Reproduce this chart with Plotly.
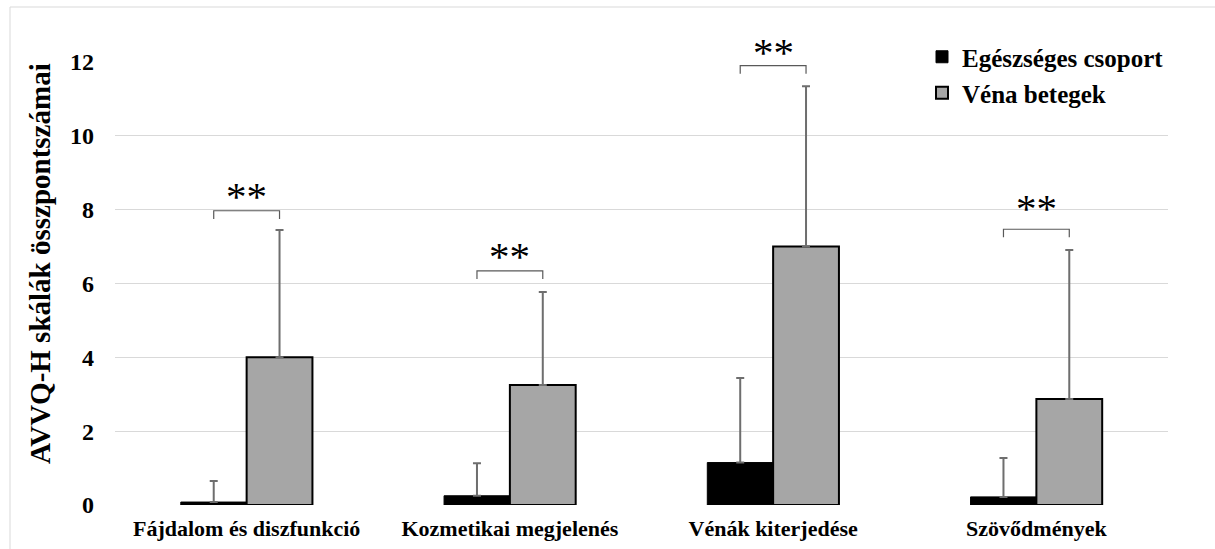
import plotly.graph_objects as go

categories = ["Fájdalom és diszfunkció", "Kozmetikai megjelenés", "Vénák kiterjedése", "Szövődmények"]
healthy = [0.08, 0.25, 1.15, 0.22]
healthy_sd = [0.57, 0.88, 2.29, 1.05]
vena = [4.0, 3.25, 7.0, 2.87]
vena_sd = [3.45, 2.52, 4.34, 4.04]
bracket_y = [7.97, 6.34, 11.9, 7.47]
star_y = [8.52, 6.9, 12.42, 8.2]
yticks = [0, 2, 4, 6, 8, 10, 12]

FONT = "Liberation Serif"
xs = list(range(len(categories)))
W = 0.25
YMAX = 12

fig = go.Figure()
fig.add_trace(go.Bar(
    x=xs, y=healthy, width=W, offset=-W, name="Egészséges csoport",
    marker=dict(color="black", line=dict(color="black", width=1)),
    error_y=dict(type="data", array=healthy_sd, arrayminus=[0]*4, symmetric=False,
                 color="#6e6e6e", thickness=2, width=4),
    legend="legend",
))
fig.add_trace(go.Bar(
    x=xs, y=vena, width=W, offset=0, name="Véna betegek",
    marker=dict(color="#a6a6a6", line=dict(color="black", width=2)),
    error_y=dict(type="data", array=vena_sd, arrayminus=[0]*4, symmetric=False,
                 color="#6e6e6e", thickness=2, width=4),
    legend="legend2",
))

drop = 0.22
for i, by in enumerate(bracket_y):
    x0 = xs[i] - W / 2
    x1 = xs[i] + W / 2
    fig.add_shape(type="path",
                  path=f"M {x0} {by-drop} L {x0} {by} L {x1} {by} L {x1} {by-drop}",
                  line=dict(color="#595959", width=1.2), xref="x", yref="y")
    fig.add_annotation(x=xs[i], y=star_y[i] / YMAX, text="**", showarrow=False,
                       font=dict(family=FONT, size=41, color="black"),
                       xref="x", yref="paper", yanchor="middle", yshift=-6)

# outer chart border
fig.add_shape(type="rect", xref="paper", yref="paper",
              x0=(10 - 115) / 1053, x1=(1225 - 115) / 1053,
              y0=-(560 - 505) / 443, y1=(505 - 7) / 443,
              line=dict(color="#d9d9d9", width=1), fillcolor="rgba(0,0,0,0)", layer="below")

fig.add_annotation(text="<b>AVVQ-H skálák összpontszámai</b>", textangle=-90,
                   xref="paper", yref="paper", x=(40 - 115) / 1053, y=(505 - 264) / 443,
                   xanchor="center", yanchor="middle",
                   showarrow=False, font=dict(family=FONT, size=29, color="black"))

legfont = dict(family=FONT, size=25, color="black", weight="bold")
LX = (922 - 115) / 1053
fig.update_layout(
    width=1215, height=549,
    margin=dict(l=115, r=47, t=62, b=44, autoexpand=False),
    paper_bgcolor="white", plot_bgcolor="white",
    barmode="overlay",
    font=dict(family=FONT, color="black"),
    showlegend=True,
    legend=dict(x=LX, y=(505 - 57) / 443, xanchor="left", yanchor="middle",
                font=legfont, bgcolor="rgba(0,0,0,0)", itemwidth=30, tracegroupgap=0),
    legend2=dict(x=LX, y=(505 - 93) / 443, xanchor="left", yanchor="middle",
                 font=legfont, bgcolor="rgba(0,0,0,0)", itemwidth=30, tracegroupgap=0),
    xaxis=dict(range=[-0.5, 3.5], tickvals=xs, ticktext=categories, automargin=False,
               showgrid=False, zeroline=False, showline=False, ticks="", ticklabelstandoff=8,
               tickfont=dict(family=FONT, size=22, color="black", weight="bold")),
    yaxis=dict(range=[0, YMAX], tickvals=yticks, showgrid=True, gridcolor="#d9d9d9", gridwidth=1,
               automargin=False,
               zeroline=False, showline=False, ticks="", ticklabelstandoff=20,
               tickfont=dict(family=FONT, size=24, color="black", weight="bold")),
)

fig.write_html("out.html", config={"displayModeBar": False},
               post_script="document.body.style.margin='0';")
